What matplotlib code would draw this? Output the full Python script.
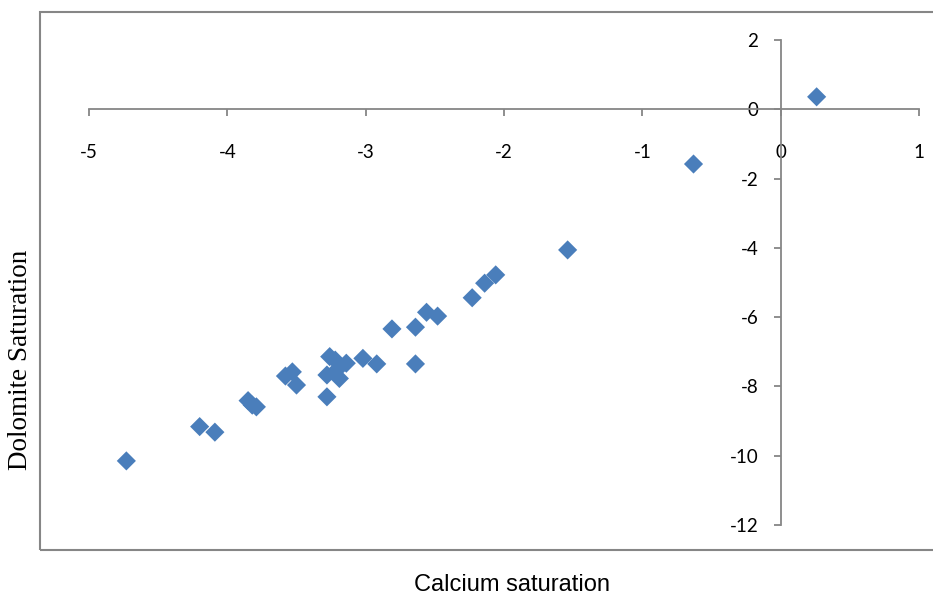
import matplotlib
matplotlib.use("Agg")
import matplotlib.pyplot as plt
from matplotlib.patches import Rectangle

# Calcium (calcite) vs dolomite saturation indices
calcium_si = [-4.73, -4.20, -4.09, -3.85, -3.82, -3.79, -3.58, -3.53, -3.50,
              -3.28, -3.28, -3.26, -3.22, -3.21, -3.19, -3.14, -3.02, -2.92,
              -2.81, -2.64, -2.64, -2.56, -2.48, -2.23, -2.14, -2.06, -1.54,
              -0.63, 0.26]
dolomite_si = [-10.15, -9.16, -9.32, -8.41, -8.54, -8.59, -7.70, -7.58, -7.96,
               -8.30, -7.67, -7.14, -7.24, -7.53, -7.77, -7.33, -7.19, -7.35,
               -6.34, -7.35, -6.29, -5.86, -5.97, -5.44, -5.02, -4.78, -4.06,
               -1.58, 0.36]

x_ticks = [-5, -4, -3, -2, -1, 0, 1]
y_ticks = [-12, -10, -8, -6, -4, -2, 0, 2]

plt.rcParams["axes.unicode_minus"] = False  # Excel uses a plain hyphen

W, H = 933, 596
fig = plt.figure(figsize=(W / 100, H / 100), dpi=100)
ax = fig.add_axes([89 / W, 1 - 525 / H, (919 - 89) / W, (525 - 40) / H])

ax.scatter(calcium_si, dolomite_si, marker="D", s=95, color="#4A7EBB",
           edgecolors="none", zorder=3, clip_on=False)

ax.set_xlim(-5, 1)
ax.set_ylim(-12, 2)
ax.set_xticks(x_ticks)
ax.set_yticks(y_ticks)

axis_grey = "#868686"
for side in ("top", "right"):
    ax.spines[side].set_visible(False)
ax.spines["left"].set_position(("data", 0))
ax.spines["bottom"].set_position(("data", 0))
for side in ("left", "bottom"):
    ax.spines[side].set_color(axis_grey)
    ax.spines[side].set_linewidth(1.3)

tick_font = "Lato"
ax.tick_params(axis="both", direction="out", length=5, width=1.3,
               color=axis_grey, labelsize=13.5)
ax.tick_params(axis="x", pad=20)
ax.tick_params(axis="y", pad=11)
for lab in ax.get_xticklabels() + ax.get_yticklabels():
    lab.set_family([tick_font, "DejaVu Sans"])

fig.text(512 / W, 1 - 585 / H, "Calcium saturation", ha="center", va="center",
         fontsize=17, family=["Liberation Sans", "DejaVu Sans"])
fig.text(21 / W, 1 - 360 / H, "Dolomite Saturation", ha="center", va="center",
         rotation=90, fontsize=19.5, family=["Liberation Serif", "DejaVu Serif"])

# chart-area border in the Excel style
fig.patches.append(Rectangle((40 / W, 1 - 550 / H), 1.0, (550 - 12) / H,
                             transform=fig.transFigure, fill=False,
                             edgecolor=axis_grey, linewidth=1.5))

fig.savefig("out.png", dpi=100)
